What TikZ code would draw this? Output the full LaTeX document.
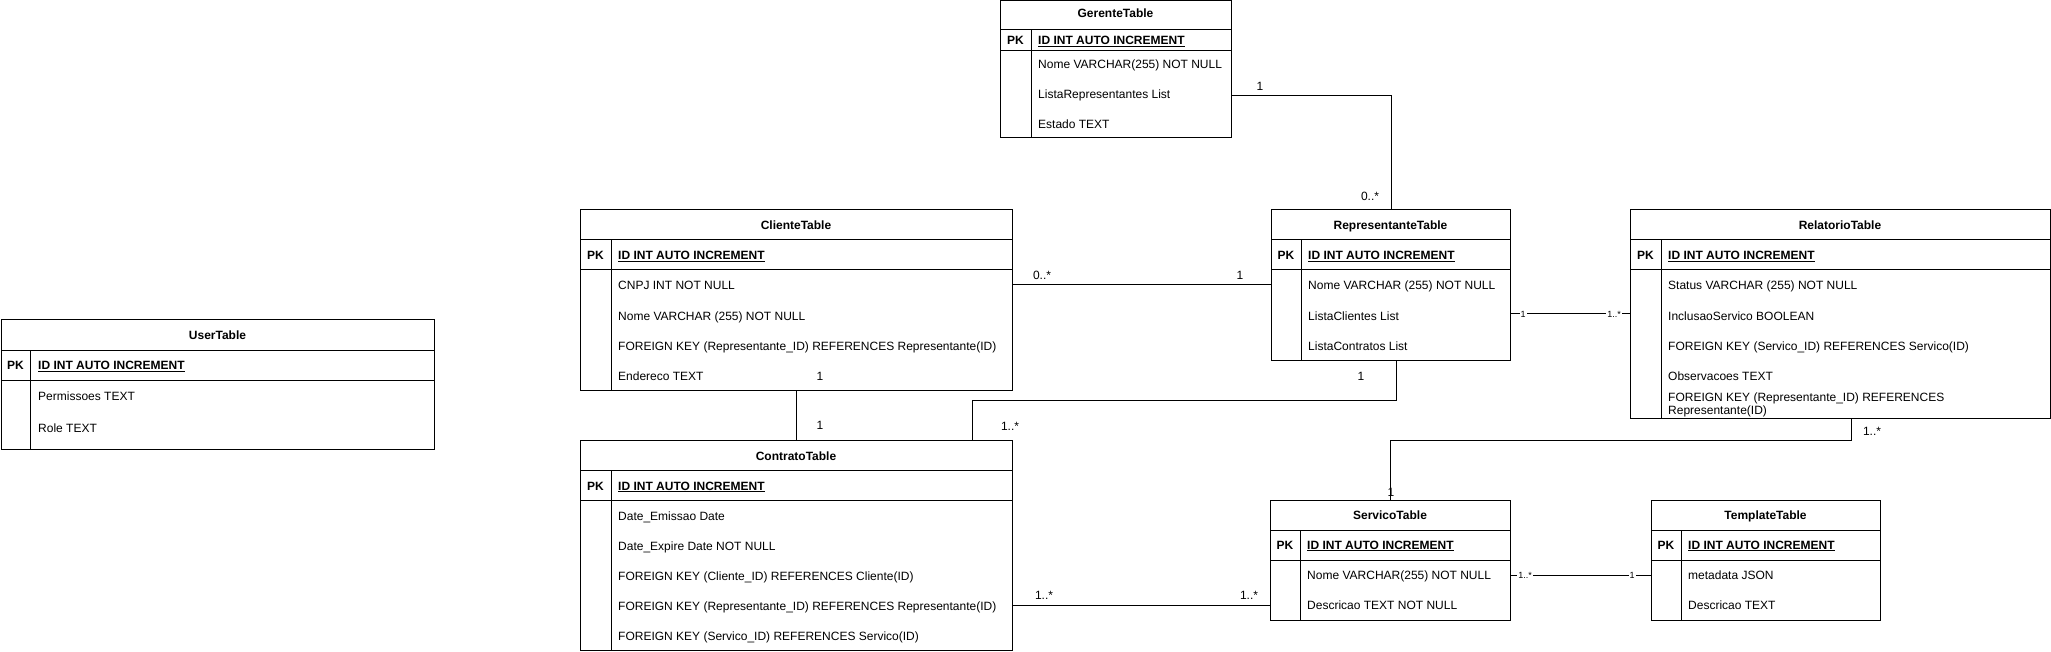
\documentclass[tikz,border=0pt]{standalone}
\usepackage{fontspec}
\setmainfont{Liberation Sans}
\newcommand\fsN{\fontsize{12}{14}\selectfont}
\newcommand\fsS{\fontsize{9}{11}\selectfont}
\tikzset{
  tbl/.style={draw=black, line width=1pt, inner sep=0pt, outer sep=0pt, fill=white},
  tline/.style={draw=black, line width=1pt},
  conn/.style={draw=black, line width=1pt},
  hdr/.style={anchor=base, inner sep=0pt, font=\fsN\bfseries},
  pk/.style={anchor=base, inner sep=0pt, font=\fsN\bfseries},
  idf/.style={anchor=base west, inner sep=0pt, font=\fsN\bfseries},
  fld/.style={anchor=base west, inner sep=0pt, font=\fsN},
  lbl/.style={anchor=center, inner sep=0pt, font=\fsN},
  slbl/.style={anchor=center, inner sep=1pt, fill=white, font=\fsS}
}
\newcommand\ertable[8]{%
  \node[tbl, minimum width={#4-#2}, minimum height={#5-#3}] (#1) at ({(#2+#4)/2},{(#3+#5)/2}) {};
  \draw[tline] (#2,#6) -- (#4,#6) (#2,#7) -- (#4,#7) (#8,#6) -- (#8,#5);
}
\begin{document}
\begin{tikzpicture}[x=1pt,y=-1pt]
\useasboundingbox (0,0) rectangle (2051,652);
\fill[white] (0,0) rectangle (2051,652);

% ---- helper coordinates ----
\coordinate (b1) at (1391,96);
\coordinate (y285) at (0,285);
\coordinate (y313) at (0,314);
\coordinate (y575) at (0,575);
\coordinate (y605) at (0,605);
\coordinate (rc1) at (1396,400);
\coordinate (rc2) at (972,400);
\coordinate (rs1) at (1851,440);

% ---- tables ----
\ertable{ger}{1000}{1}{1231}{138}{30}{51}{1031}
\node[hdr] (gerT) at (1115.5,18) {GerenteTable};
\node[pk] (gerPK) at (1015.5,45) {PK};
\node[idf] (gerID) at (1038,45) {\underline{ID INT AUTO INCREMENT}};
\node[fld] (gerF1) at (1038,69) {Nome VARCHAR(255) NOT NULL};
\node[fld] (gerF2) at (1038,99) {ListaRepresentantes List};
\node[fld] (gerF3) at (1038,129) {Estado TEXT};

\ertable{cli}{580}{210}{1012}{390}{240}{270}{611}
\node[hdr] (cliT) at (796,230) {ClienteTable};
\node[pk] (cliPK) at (595.5,260) {PK};
\node[idf] (cliID) at (618,260) {\underline{ID INT AUTO INCREMENT}};
\node[fld] (cliF1) at (618,290) {CNPJ INT NOT NULL};
\node[fld] (cliF2) at (618,320) {Nome VARCHAR (255) NOT NULL};
\node[fld] (cliF3) at (618,350) {FOREIGN KEY (Representante\_ID) REFERENCES Representante(ID)};
\node[fld] (cliF4) at (618,380) {Endereco TEXT};

\ertable{rep}{1271}{210}{1510}{360}{240}{270}{1301}
\node[hdr] (repT) at (1390.5,230) {RepresentanteTable};
\node[pk] (repPK) at (1286,260) {PK};
\node[idf] (repID) at (1308,260) {\underline{ID INT AUTO INCREMENT}};
\node[fld] (repF1) at (1308,290) {Nome VARCHAR (255) NOT NULL};
\node[fld] (repF2) at (1308,320) {ListaClientes List};
\node[fld] (repF3) at (1308,350) {ListaContratos List};

\ertable{rel}{1630}{210}{2050}{418}{240}{270}{1661}
\node[hdr] (relT) at (1840,230) {RelatorioTable};
\node[pk] (relPK) at (1645.5,260) {PK};
\node[idf] (relID) at (1668,260) {\underline{ID INT AUTO INCREMENT}};
\node[fld] (relF1) at (1668,290) {Status VARCHAR (255) NOT NULL};
\node[fld] (relF2) at (1668,320) {InclusaoServico BOOLEAN};
\node[fld] (relF3) at (1668,350) {FOREIGN KEY (Servico\_ID) REFERENCES Servico(ID)};
\node[fld] (relF4) at (1668,380) {Observacoes TEXT};
\node[fld, anchor=south west, align=left, font=\fontsize{12}{13}\selectfont] (relF5) at (1668,417.5) {FOREIGN KEY (Representante\_ID) REFERENCES\\Representante(ID)};

\ertable{usr}{1}{320}{434}{449}{350}{380}{30}
\node[hdr] (usrT) at (217.5,340) {UserTable};
\node[pk] (usrPK) at (15.5,370) {PK};
\node[idf] (usrID) at (38,370) {\underline{ID INT AUTO INCREMENT}};
\node[fld] (usrF1) at (38,400) {Permissoes TEXT};
\node[fld] (usrF2) at (38,432) {Role TEXT};

\ertable{con}{580}{440}{1012}{650}{470}{500}{611}
\node[hdr] (conT) at (796,460) {ContratoTable};
\node[pk] (conPK) at (595.5,490) {PK};
\node[idf] (conID) at (618,490) {\underline{ID INT AUTO INCREMENT}};
\node[fld] (conF1) at (618,520) {Date\_Emissao Date};
\node[fld] (conF2) at (618,550) {Date\_Expire Date NOT NULL};
\node[fld] (conF3) at (618,580) {FOREIGN KEY (Cliente\_ID) REFERENCES Cliente(ID)};
\node[fld] (conF4) at (618,610) {FOREIGN KEY (Representante\_ID) REFERENCES Representante(ID)};
\node[fld] (conF5) at (618,640) {FOREIGN KEY (Servico\_ID) REFERENCES Servico(ID)};

\ertable{srv}{1270}{500}{1510}{620}{530}{560}{1300}
\node[hdr] (srvT) at (1390,519) {ServicoTable};
\node[pk] (srvPK) at (1285,549) {PK};
\node[idf] (srvID) at (1307,549) {\underline{ID INT AUTO INCREMENT}};
\node[fld] (srvF1) at (1307,579) {Nome VARCHAR(255) NOT NULL};
\node[fld] (srvF2) at (1307,609) {Descricao TEXT NOT NULL};

\ertable{tpl}{1651}{500}{1880}{620}{530}{560}{1681}
\node[hdr] (tplT) at (1765.5,519) {TemplateTable};
\node[pk] (tplPK) at (1666,549) {PK};
\node[idf] (tplID) at (1688,549) {\underline{ID INT AUTO INCREMENT}};
\node[fld] (tplF1) at (1688,579) {metadata JSON};
\node[fld] (tplF2) at (1688,609) {Descricao TEXT};

% ---- connectors ----
\draw[conn] (ger.east |- b1) -- (b1) -- (b1 |- rep.north);
\draw[conn] (cli.east |- y285) -- (rep.west |- y285);
\draw[conn] (rep.east |- y313) -- (rel.west |- y313);
\draw[conn] (cli.south) -- (con.north);
\draw[conn] (rc1 |- rep.south) -- (rc1) -- (rc2) -- (rc2 |- con.north);
\draw[conn] (rs1 |- rel.south) -- (rs1) -| (srv.north);
\draw[conn] (con.east |- y605) -- (srv.west |- y605);
\draw[conn] (srv.east |- y575) -- (tpl.west |- y575);

% ---- multiplicity labels ----
\node[lbl] (l1) at (1260,86) {1};
\node[lbl] (l2) at (1370,196) {0..*};
\node[lbl] (l3) at (1042,275) {0..*};
\node[lbl] (l4) at (1240,275) {1};
\node[slbl] (l5) at (1523,314) {1};
\node[slbl] (l6) at (1614,314) {1..*};
\node[lbl] (l7) at (820,376) {1};
\node[lbl] (l8) at (820,425) {1};
\node[lbl] (l9) at (1361,376) {1};
\node[lbl] (l10) at (1010,426) {1..*};
\node[lbl] (l11) at (1872,431) {1..*};
\node[lbl] (l12) at (1391,492) {1};
\node[lbl] (l13) at (1044,595) {1..*};
\node[lbl] (l14) at (1249,595) {1..*};
\node[slbl] (l15) at (1525,575) {1..*};
\node[slbl] (l16) at (1632,575) {1};
\end{tikzpicture}
\end{document}
